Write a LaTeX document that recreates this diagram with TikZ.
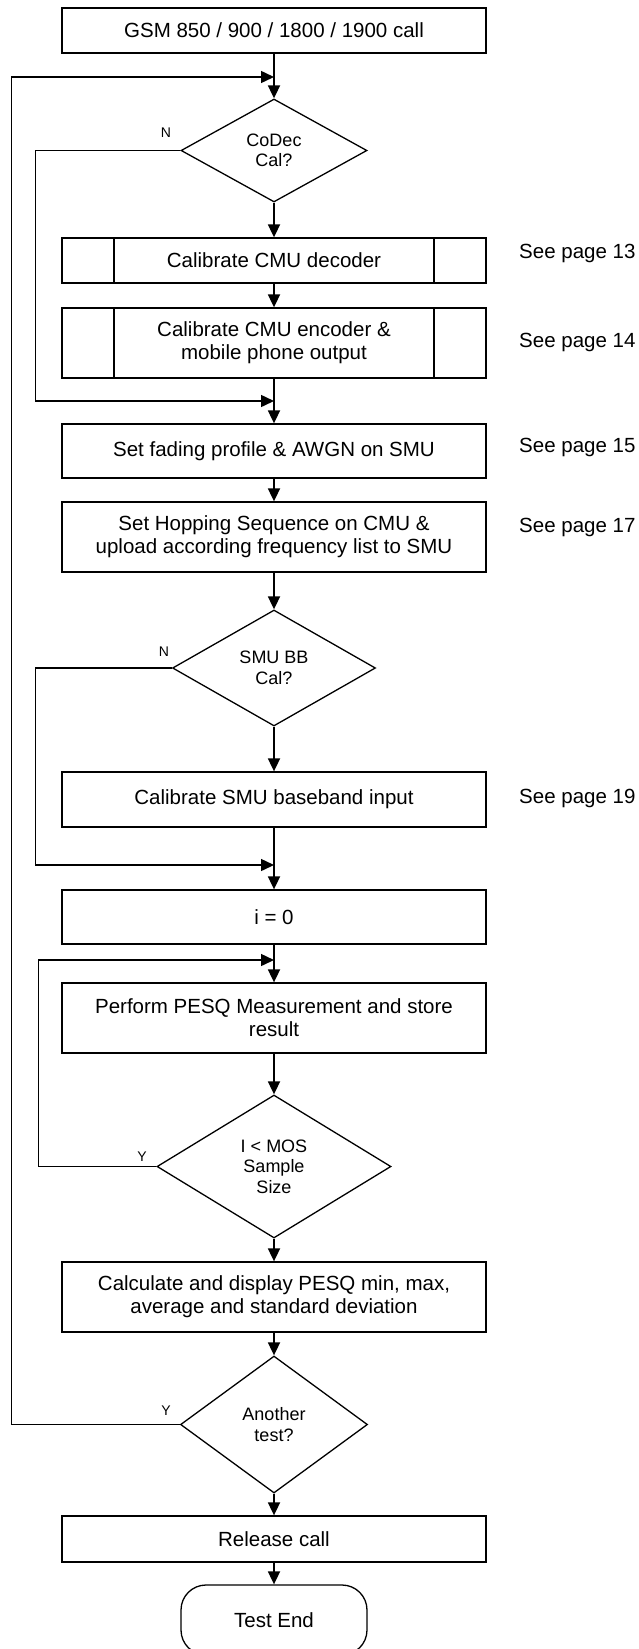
\documentclass[tikz,border=0pt]{standalone}
\usepackage{fontspec}
\setmainfont{Liberation Sans}
\usetikzlibrary{shapes.geometric,arrows.meta}

\begin{document}
\begin{tikzpicture}[x=1pt,y=-1pt,
    >={Triangle[length=13pt,width=12pt]},
    every node/.style={align=center,font=\fontsize{20.5}{23}\selectfont},
    box/.style={draw,line width=1.3pt,minimum width=424pt,inner sep=0pt},
    subproc/.style={box,path picture={
        \draw[line width=1.3pt] ([xshift=52pt]path picture bounding box.north west) -- ([xshift=52pt]path picture bounding box.south west);
        \draw[line width=1.3pt] ([xshift=-52pt]path picture bounding box.north east) -- ([xshift=-52pt]path picture bounding box.south east);}},
    decision/.style={diamond,draw,line width=1.3pt,inner sep=0pt,font=\fontsize{18}{20.5}\selectfont},
    terminal/.style={draw,line width=1.3pt,rounded corners=25pt,minimum width=186pt,minimum height=70pt},
    note/.style={anchor=west,inner sep=0pt},
    tag/.style={font=\fontsize{14}{16}\selectfont,inner sep=0pt},
    flow/.style={->,line width=1.8pt},
    back/.style={->,line width=1.5pt}
  ]
    \useasboundingbox (0,0) rectangle (638,1649);

    \node[box,minimum height=45pt] (gsm) at (274,30.5) {GSM 850 / 900 / 1800 / 1900 call};
    \node[decision,minimum width=186pt,minimum height=103pt] (codec) at (274,150.5) {CoDec\\Cal?};
    \node[subproc,minimum height=45pt] (dec) at (274,260.5) {Calibrate CMU decoder};
    \node[subproc,minimum height=70pt] (enc) at (274,343) {Calibrate CMU encoder \&\\mobile phone output};
    \node[box,minimum height=54pt] (fade) at (274,451) {Set fading profile \& AWGN on SMU};
    \node[box,minimum height=70pt] (hop) at (274,537) {Set Hopping Sequence on CMU \&\\upload according frequency list to SMU};
    \node[decision,minimum width=203pt,minimum height=116pt] (bbcal) at (274,668) {SMU BB\\Cal?};
    \node[box,minimum height=55pt] (bb) at (274,799.5) {Calibrate SMU baseband input};
    \node[box,minimum height=54pt] (init) at (274,917) {i = 0};
    \node[box,minimum height=70pt] (pesq) at (274,1018) {Perform PESQ Measurement and store\\result};
    \node[decision,minimum width=234pt,minimum height=143pt] (count) at (274,1166.5) {I < MOS\\Sample\\Size};
    \node[box,minimum height=70pt] (stats) at (274,1297) {Calculate and display PESQ min, max,\\average and standard deviation};
    \node[decision,minimum width=187pt,minimum height=137pt] (again) at (274,1424.5) {Another\\test?};
    \node[box,minimum height=46pt] (release) at (274,1539) {Release call};
    \node[terminal] (end) at (274,1620) {Test End};

    % page references
    \node[note] (p13) at (519,253) {See page 13};
    \node[note] (p14) at (519,342) {See page 14};
    \node[note] (p15) at (519,447) {See page 15};
    \node[note] (p17) at (519,527) {See page 17};
    \node[note] (p19) at (519,798) {See page 19};

    \node[tag] (n1) at (166,133) {N};
    \node[tag] (n2) at (164,652) {N};
    \node[tag] (y3) at (142,1157) {Y};
    \node[tag] (y4) at (166,1411) {Y};

    \coordinate (j0) at (274,77);
    \coordinate (j1) at (274,401);
    \coordinate (j2) at (274,865);
    \coordinate (j3) at (274,960);

    \draw[flow] (gsm) -- (codec);
    \draw[flow] (codec) -- (dec);
    \draw[flow] (dec) -- (enc);
    \draw[flow] (enc) -- (fade);
    \draw[flow] (fade) -- (hop);
    \draw[flow] (hop) -- (bbcal);
    \draw[flow] (bbcal) -- (bb);
    \draw[flow] (bb) -- (init);
    \draw[flow] (init) -- (pesq);
    \draw[flow] (pesq) -- (count);
    \draw[flow] (count) -- (stats);
    \draw[flow] (stats) -- (again);
    \draw[flow] (again) -- (release);
    \draw[flow] (release) -- (end);

    % loops back
    \draw[back] (codec.west) -- ++(-145,0) |- (j1);
    \draw[back] (bbcal.west) -- ++(-136.5,0) |- (j2);
    \draw[back] (count.west) -- ++(-118,0) |- (j3);
    \draw[back] (again.west) -- ++(-168.5,0) |- (j0);
\end{tikzpicture}
\end{document}
